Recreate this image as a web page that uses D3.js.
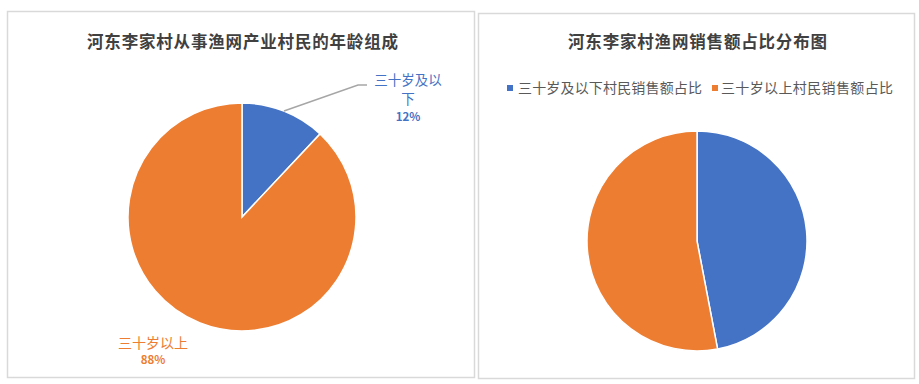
<!DOCTYPE html>
<html><head><meta charset="utf-8">
<script src="https://cdn.jsdelivr.net/npm/d3@7"></script>
<style>body{margin:0;background:#fff;font-family:"Noto Sans CJK SC","Microsoft YaHei",sans-serif;}</style>
</head><body>
<svg id="c" width="919" height="384"></svg>
<script>
const title1 = "河东李家村从事渔网产业村民的年龄组成";
const cats1 = ["三十岁及以下", "三十岁以上"];
const vals1 = [12, 88];
const title2 = "河东李家村渔网销售额占比分布图";
const cats2 = ["三十岁及以下村民销售额占比", "三十岁以上村民销售额占比"];
const vals2 = [47, 53];
const colors = ["#4472C4", "#ED7D31"];

const svg = d3.select("#c");
const font = '"Noto Sans CJK SC", sans-serif';

// panels
svg.append("rect").attr("x",7.5).attr("y",11.5).attr("width",467).attr("height",366)
  .attr("fill","#fff").attr("stroke","#d9d9d9").attr("stroke-width",1.5);
svg.append("rect").attr("x",478.5).attr("y",13.5).attr("width",436).attr("height",365)
  .attr("fill","#fff").attr("stroke","#d9d9d9").attr("stroke-width",1.5);

// titles
svg.append("text").attr("x",87).attr("y",48)
  .attr("font-family",font).attr("font-weight","bold").attr("font-size",16.5)
  .attr("textLength",311).attr("lengthAdjust","spacing").attr("fill","#404040").text(title1);
svg.append("text").attr("x",568).attr("y",48)
  .attr("font-family",font).attr("font-weight","bold").attr("font-size",16.5)
  .attr("textLength",259).attr("lengthAdjust","spacing").attr("fill","#404040").text(title2);

const pie = d3.pie().sort(null).value(d=>d);

// left pie
const cx1=242, cy1=217, r1=114;
const g1 = svg.append("g").attr("transform",`translate(${cx1},${cy1})`);
const arc1 = d3.arc().innerRadius(0).outerRadius(r1);
const arcs1 = pie(vals1);
g1.selectAll("path").data(arcs1).join("path").attr("d",arc1)
  .attr("fill",(d,i)=>colors[i]).attr("stroke","#fff").attr("stroke-width",1.5);

// leader for blue slice
const a0 = (arcs1[0].startAngle+arcs1[0].endAngle)/2;
const p0 = [Math.sin(a0)*r1, -Math.cos(a0)*r1];
g1.append("polyline")
  .attr("points",`${p0[0]},${p0[1]} ${358-cx1},${85-cy1} ${367-cx1},${85-cy1}`)
  .attr("fill","none").attr("stroke","#a6a6a6").attr("stroke-width",1.5);

// labels (one text element per category, wrapped with tspans)
function label(x, lines, pctY, pct, color, fs){
  const t = svg.append("text").attr("text-anchor","middle")
    .attr("font-family",font).attr("font-size",fs).attr("fill",color);
  lines.forEach(l=>{ t.append("tspan").attr("x",x).attr("y",l.y).text(l.t); });
  svg.append("text").attr("x",x).attr("y",pctY).attr("text-anchor","middle")
    .attr("font-family",font).attr("font-weight","bold").attr("font-size",11.5).attr("fill",color).text(pct);
}
label(408, [{t:cats1[0].slice(0,5),y:85},{t:cats1[0].slice(5),y:104}], 121, vals1[0]+"%", colors[0], 13.5);
label(153, [{t:cats1[1],y:348}], 364, vals1[1]+"%", colors[1], 14);

// right pie
const cx2=697, cy2=241, r2=110;
const g2 = svg.append("g").attr("transform",`translate(${cx2},${cy2})`);
const arc2 = d3.arc().innerRadius(0).outerRadius(r2);
g2.selectAll("path").data(pie(vals2)).join("path").attr("d",arc2)
  .attr("fill",(d,i)=>colors[i]).attr("stroke","#fff").attr("stroke-width",1.5);

// legend
const leg = [{x:507, tx:518, w:184},{x:712, tx:721, w:172}];
cats2.forEach((c,i)=>{
  svg.append("rect").attr("x",leg[i].x).attr("y",85).attr("width",6).attr("height",6).attr("fill",colors[i]);
  svg.append("text").attr("x",leg[i].tx).attr("y",93).attr("font-family",font)
    .attr("font-size",14).attr("textLength",leg[i].w).attr("lengthAdjust","spacing")
    .attr("fill","#595959").text(c);
});
</script>
</body></html>
